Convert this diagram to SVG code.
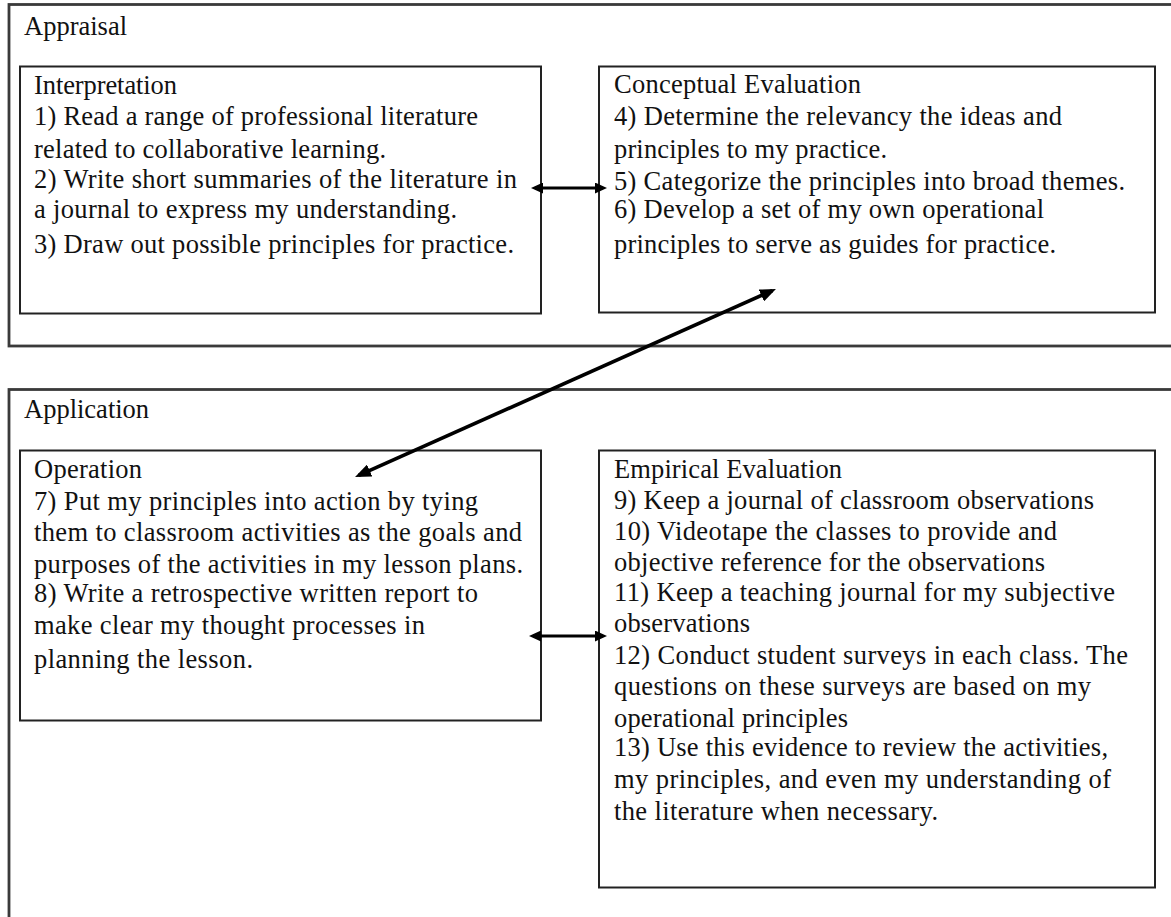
<svg xmlns="http://www.w3.org/2000/svg" width="1171" height="917" viewBox="0 0 1171 917">
<style>
  .bg{fill:#ffffff}
  .outer{fill:none;stroke:#3a3a3a;stroke-width:2.8}
  .inner{fill:#ffffff;stroke:#222222;stroke-width:2}
  text{font-family:"Liberation Serif","Times New Roman",serif;font-size:26.5px;fill:#111111}
  .conn{stroke:#000000;stroke-width:3.2;fill:none}
  .diag{stroke-width:3.6}
</style>
<defs>
  <marker id="ah" markerUnits="userSpaceOnUse" viewBox="0 0 12 11" refX="8" refY="5.5" markerWidth="12" markerHeight="11" orient="auto-start-reverse">
    <path d="M0,0 L12,5.5 L0,11 z" fill="#000"/>
  </marker>
  <marker id="ahb" markerUnits="userSpaceOnUse" viewBox="0 0 16 13" refX="12" refY="6.5" markerWidth="16" markerHeight="13" orient="auto-start-reverse">
    <path d="M0,0 L16,6.5 L0,13 z" fill="#000"/>
  </marker>
</defs>
<rect class="bg" x="0" y="0" width="1171" height="917"/>

<g id="appraisal">
  <rect class="outer" x="9" y="4.5" width="1200" height="341.5"/>
  <text x="24" y="35">Appraisal</text>
</g>

<g id="interpretation">
  <rect class="inner" x="20" y="66.5" width="521" height="247"/>
  <text x="34" y="94" textLength="143">Interpretation</text>
  <text x="34" y="125" textLength="444">1) Read a range of professional literature</text>
  <text x="34" y="158" textLength="352">related to collaborative learning.</text>
  <text x="34" y="188" textLength="483">2) Write short summaries of the literature in</text>
  <text x="34" y="218" textLength="423">a journal to express my understanding.</text>
  <text x="34" y="253" textLength="480">3) Draw out possible principles for practice.</text>
</g>

<g id="conceptual-evaluation">
  <rect class="inner" x="599" y="66.5" width="556" height="246"/>
  <text x="614" y="93" textLength="247">Conceptual Evaluation</text>
  <text x="614" y="125" textLength="448">4) Determine the relevancy the ideas and</text>
  <text x="614" y="158" textLength="273">principles to my practice.</text>
  <text x="614" y="190" textLength="511">5) Categorize the principles into broad themes.</text>
  <text x="614" y="218" textLength="430">6) Develop a set of my own operational</text>
  <text x="614" y="253" textLength="442">principles to serve as guides for practice.</text>
</g>

<g id="application">
  <rect class="outer" x="9" y="389.5" width="1200" height="600"/>
  <text x="24" y="418">Application</text>
</g>

<g id="operation">
  <rect class="inner" x="20" y="450.5" width="521" height="270"/>
  <text x="34" y="478" textLength="108">Operation</text>
  <text x="34" y="510" textLength="444">7) Put my principles into action by tying</text>
  <text x="34" y="541" textLength="488">them to classroom activities as the goals and</text>
  <text x="34" y="573" textLength="489">purposes of the activities in my lesson plans.</text>
  <text x="34" y="602" textLength="444">8) Write a retrospective written report to</text>
  <text x="34" y="634" textLength="391">make clear my thought processes in</text>
  <text x="34" y="668" textLength="219">planning the lesson.</text>
</g>

<g id="empirical-evaluation">
  <rect class="inner" x="599" y="450.5" width="556" height="437"/>
  <text x="614" y="478" textLength="228">Empirical Evaluation</text>
  <text x="614" y="509" textLength="480">9) Keep a journal of classroom observations</text>
  <text x="614" y="540" textLength="443">10) Videotape the classes to provide and</text>
  <text x="614" y="571" textLength="431">objective reference for the observations</text>
  <text x="614" y="601" textLength="501">11) Keep a teaching journal for my subjective</text>
  <text x="614" y="632" textLength="136">observations</text>
  <text x="614" y="664" textLength="514">12) Conduct student surveys in each class. The</text>
  <text x="614" y="695" textLength="477">questions on these surveys are based on my</text>
  <text x="614" y="727" textLength="234">operational principles</text>
  <text x="614" y="756" textLength="494">13) Use this evidence to review the activities,</text>
  <text x="614" y="788" textLength="497">my principles, and even my understanding of</text>
  <text x="614" y="820" textLength="324">the literature when necessary.</text>
</g>

<g id="connectors">
  <line class="conn" x1="535" y1="188" x2="603" y2="188" marker-start="url(#ah)" marker-end="url(#ah)"/>
  <line class="conn" x1="533" y1="636" x2="603" y2="636" marker-start="url(#ah)" marker-end="url(#ah)"/>
  <line class="conn diag" x1="358.7" y1="475.4" x2="772.3" y2="290.6" marker-start="url(#ahb)" marker-end="url(#ahb)"/>
</g>
</svg>
